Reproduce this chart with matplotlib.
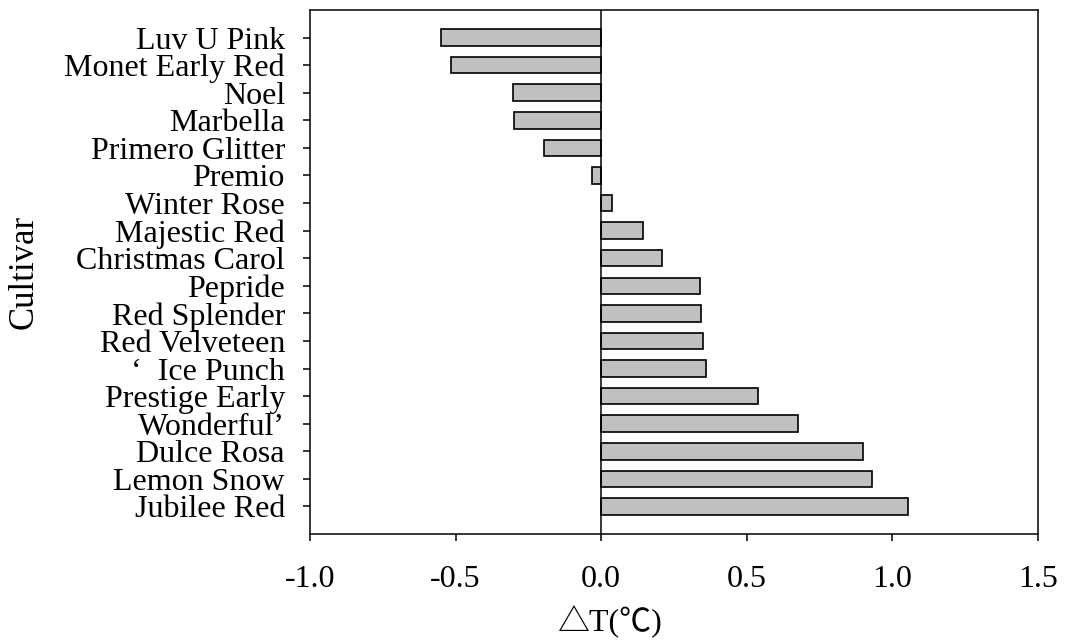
import matplotlib
matplotlib.use("Agg")
import matplotlib.pyplot as plt
import numpy as np

cultivars = ["Luv U Pink", "Monet Early Red", "Noel", "Marbella", "Primero Glitter",
             "Premio", "Winter Rose", "Majestic Red", "Christmas Carol", "Pepride",
             "Red Splender", "Red Velveteen", "\u2018  Ice Punch", "Prestige Early",
             "Wonderful\u2019", "Dulce Rosa", "Lemon Snow", "Jubilee Red"]
delta_t = [-0.551, -0.517, -0.304, -0.299, -0.196, -0.032, 0.038, 0.144, 0.209,
           0.339, 0.342, 0.351, 0.360, 0.540, 0.677, 0.900, 0.930, 1.053]
x_ticks = [-1.0, -0.5, 0.0, 0.5, 1.0, 1.5]
x_tick_labels = ["-1.0", "-0.5", "0.0", "0.5", "1.0", "1.5"]

plt.rcParams['font.family'] = ['Liberation Serif', 'Noto Sans CJK SC', 'DejaVu Sans']

fig = plt.figure(figsize=(10.65, 6.44), dpi=100)
ax = fig.add_axes([0.291, 0.1708, 0.9746 - 0.291, 0.9845 - 0.1708])

pos = np.arange(len(cultivars))
ax.barh(pos, delta_t, height=0.6, color="#C0C0C0", edgecolor="black", linewidth=1.2, zorder=2)
ax.axvline(0, color="black", linewidth=1.1, zorder=3)

ax.set_xlim(-1.0, 1.5)
ax.set_ylim(len(cultivars), -1)
ax.set_yticks(pos)
ax.set_yticklabels(cultivars)
ax.set_xticks(x_ticks)
ax.set_xticklabels(x_tick_labels)

ax.tick_params(axis="both", labelsize=23, length=5, width=1.1, direction="out")
ax.tick_params(axis="y", pad=13)
ax.tick_params(axis="x", pad=17)
for s in ax.spines.values():
    s.set_linewidth(1.1)

ax.set_xlabel("\u25b3T(\u2103)", fontsize=23)
ax.xaxis.set_label_coords(0.411, -0.137)
ax.set_ylabel("Cultivar", fontsize=25, labelpad=17)

fig.savefig("out.png", dpi=100)
